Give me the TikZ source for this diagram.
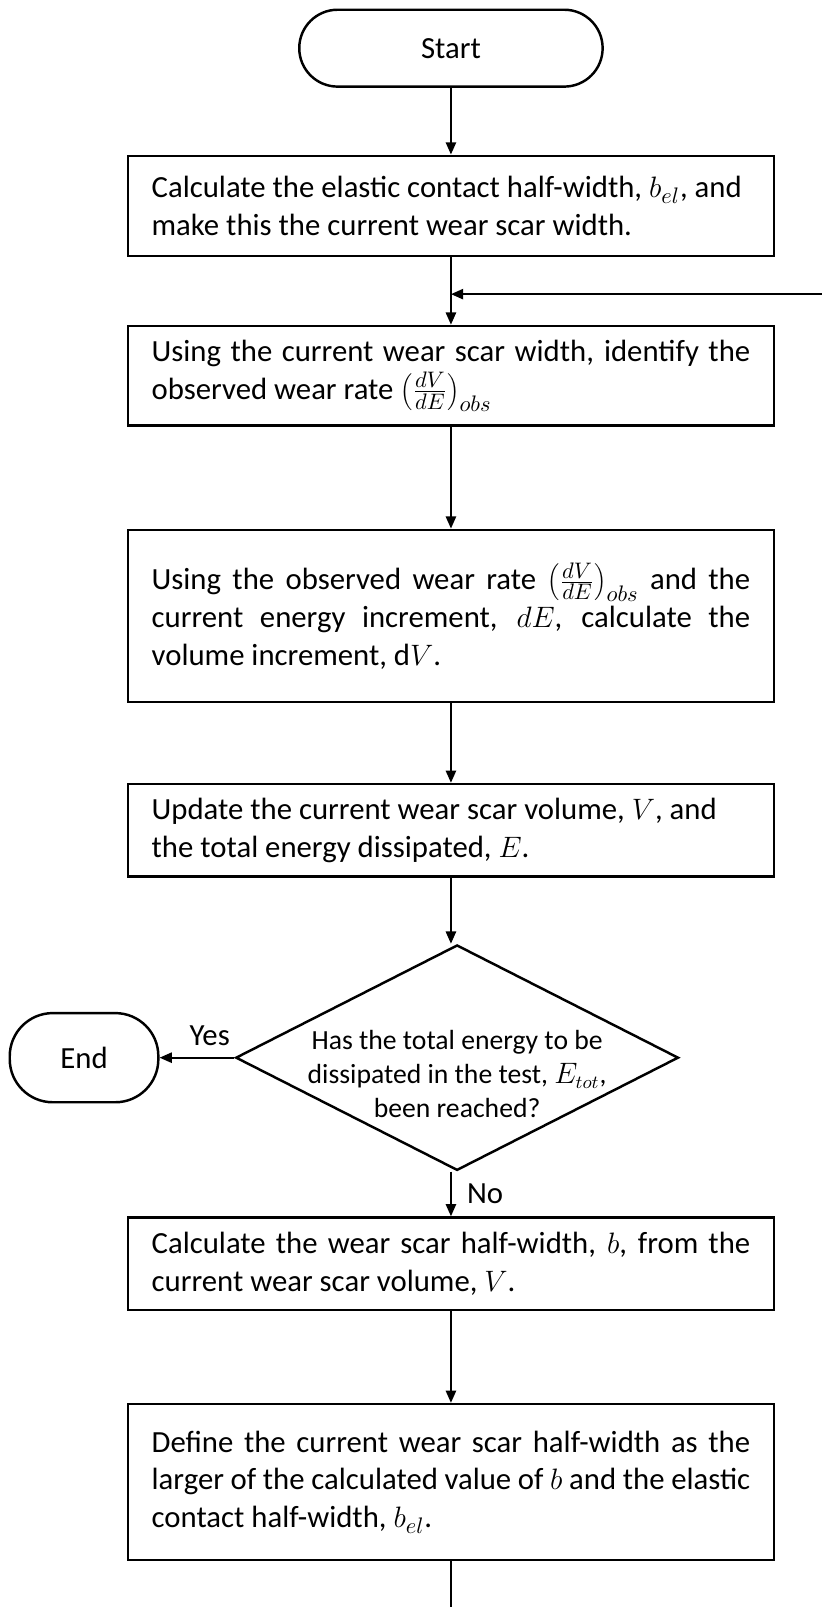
\documentclass[tikz,border=0pt]{standalone}
\usepackage{fontspec}
\setmainfont{Carlito}
\usetikzlibrary{arrows.meta, shapes.geometric}

\begin{document}
\begin{tikzpicture}[x=0.5pt, y=-0.5pt,
  every node/.style={font=\fontsize{15}{18.5}\selectfont},
  term/.style={draw, line width=1.2pt, minimum width=148pt, minimum height=37.5pt, rounded corners=18.7pt},
  process/.style={draw, line width=1.2pt, text width=292pt, inner xsep=11.5pt, align=justify},
  decision/.style={draw, line width=1.2pt, diamond, aspect=2, minimum width=216pt, minimum height=110pt, inner sep=0pt},
  question/.style={align=center, yshift=-8pt, font=\fontsize{13.5}{16.5}\selectfont},
  flow/.style={line width=1pt, -{Triangle[length=6pt, width=5pt]}}]
  \useasboundingbox (0, 0) rectangle (802, 1568);

  \node (start) [term] at (440, 47) {Start};
  \node (calc-bel) [process, minimum height=49pt] at (440, 201) {Calculate the elastic contact half-width, $b_{el}$, and\\ make this the current wear scar width.};
  \node (find-rate) [process, minimum height=48.5pt] at (440, 366.5) {Using the current wear scar width, identify the\linebreak observed wear rate $\left(\frac{dV}{dE}\right)_{obs}$};
  \node (calc-dv) [process, minimum height=84pt] at (440, 601) {Using the observed wear rate $\left(\frac{dV}{dE}\right)_{obs}$ and the\linebreak current energy increment, $dE$, calculate the\linebreak volume increment, d$V$.};
  \node (update) [process, minimum height=45pt] at (440, 810) {Update the current wear scar volume, $V$, and\\ the total energy dissipated, $E$.};
  \node (check) [decision, label={[question]center:Has the total energy to be\\ dissipated in the test, $E_{tot}$,\\ been reached?}] at (446, 1032) {};
  \node (end) [term, minimum width=72.5pt, minimum height=43.5pt, rounded corners=21pt] at (82, 1032) {End};
  \node (calc-b) [process, minimum height=45pt] at (440, 1233) {Calculate the wear scar half-width, $b$, from the\linebreak current wear scar volume, $V$.};
  \node (define-b) [process, minimum height=76pt] at (440, 1446) {Define the current wear scar half-width as the\linebreak larger of the calculated value of $b$ and the elastic\linebreak contact half-width, $b_{el}$.};

  \coordinate (loop-in) at (802, 287);
  \coordinate (loop-out) at (440, 1568);

  \draw[flow] (start) -- (calc-bel);
  \draw[flow] (calc-bel) -- (find-rate);
  \draw[flow] (loop-in) -- (loop-in -| find-rate.north);
  \draw[flow] (find-rate) -- (calc-dv);
  \draw[flow] (calc-dv) -- (update);
  \draw[flow] (update) -- (update.south |- check.north);
  \draw[flow] (check) -- node[pos=0.33, above, yshift=2pt] {Yes} (end);
  \draw[flow] (check.south -| calc-b.north) -- node[right, xshift=4pt] {No} (calc-b);
  \draw[flow] (calc-b) -- (define-b);
  \draw[line width=1pt] (define-b) -- (loop-out);
\end{tikzpicture}
\end{document}
